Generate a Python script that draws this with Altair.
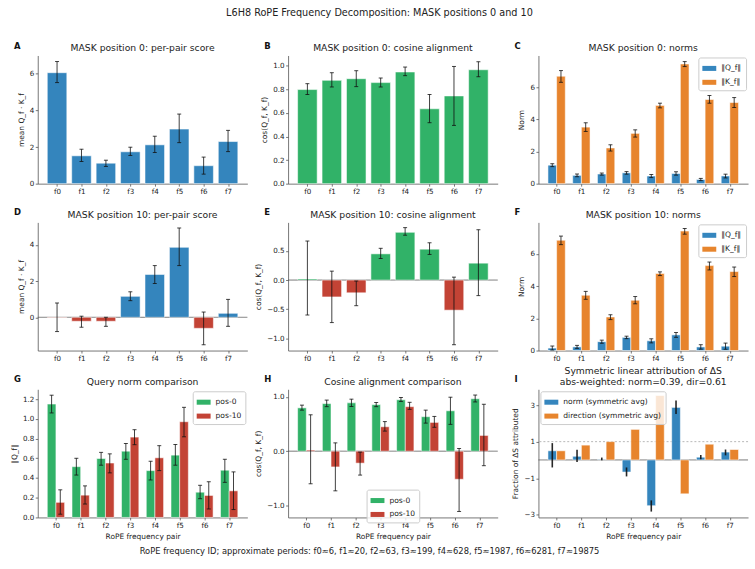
import altair as alt
import pandas as pd

# ---- data -------------------------------------------------------------
FREQS = ["f0", "f1", "f2", "f3", "f4", "f5", "f6", "f7"]

# MASK position 0
score_p0 = [6.06, 1.52, 1.12, 1.74, 2.12, 2.98, 0.98, 2.30]
score_p0_lo = [5.52, 1.21, 0.94, 1.54, 1.70, 2.24, 0.52, 1.75]
score_p0_hi = [6.67, 1.88, 1.28, 1.99, 2.59, 3.80, 1.45, 2.91]

cos_p0 = [0.798, 0.876, 0.890, 0.857, 0.947, 0.635, 0.744, 0.966]
cos_p0_lo = [0.756, 0.820, 0.823, 0.820, 0.916, 0.517, 0.494, 0.907]
cos_p0_hi = [0.848, 0.941, 0.958, 0.896, 0.989, 0.756, 0.994, 1.034]

qnorm_p0 = [1.15, 0.515, 0.598, 0.672, 0.475, 0.632, 0.256, 0.479]
qnorm_p0_lo = [1.06, 0.43, 0.53, 0.59, 0.38, 0.53, 0.19, 0.356]
qnorm_p0_hi = [1.24, 0.60, 0.66, 0.75, 0.57, 0.74, 0.326, 0.59]

knorm_p0 = [6.69, 3.52, 2.22, 3.13, 4.87, 7.45, 5.24, 5.05]
knorm_p0_lo = [6.31, 3.25, 2.03, 2.90, 4.72, 7.29, 5.01, 4.74]
knorm_p0_hi = [7.04, 3.79, 2.42, 3.35, 5.01, 7.60, 5.49, 5.36]

# MASK position 10
score_p10 = [-0.02, -0.22, -0.22, 1.16, 2.37, 3.87, -0.61, 0.22]
score_p10_lo = [-0.79, -0.55, -0.50, 0.92, 1.87, 2.86, -1.52, -0.50]
score_p10_hi = [0.79, 0.06, 0.00, 1.41, 2.86, 4.94, 0.29, 0.99]

cos_p10 = [0.02, -0.29, -0.22, 0.45, 0.82, 0.53, -0.517, 0.29]
cos_p10_lo = [-0.60, -0.73, -0.44, 0.37, 0.77, 0.44, -1.11, -0.267]
cos_p10_hi = [0.67, 0.153, -0.017, 0.545, 0.90, 0.64, 0.05, 0.864]

qnorm_p10 = [0.153, 0.226, 0.552, 0.815, 0.605, 0.971, 0.223, 0.27]
qnorm_p10_lo = [0.033, 0.136, 0.452, 0.738, 0.475, 0.818, 0.086, 0.08]
qnorm_p10_hi = [0.28, 0.32, 0.645, 0.89, 0.728, 1.117, 0.362, 0.462]

knorm_p10 = [6.84, 3.43, 2.08, 3.12, 4.78, 7.41, 5.27, 4.90]
knorm_p10_lo = [6.57, 3.18, 1.92, 2.90, 4.65, 7.22, 5.00, 4.59]
knorm_p10_hi = [7.10, 3.67, 2.22, 3.35, 4.88, 7.57, 5.49, 5.18]

# Symmetric linear attribution of the score change
attr_norm = [0.50, 0.20, 0.03, -0.66, -2.50, 2.87, 0.15, 0.43]
attr_norm_lo = [-0.41, -0.11, -0.02, -0.90, -2.82, 2.51, 0.04, 0.25]
attr_norm_hi = [0.92, 0.56, 0.13, -0.41, -2.21, 3.25, 0.27, 0.57]
attr_dir = [0.50, 0.81, 1.00, 1.67, 3.52, -1.85, 0.86, 0.57]

SUPTITLE = "L6H8 RoPE Frequency Decomposition: MASK positions 0 and 10"
CAPTION = ("RoPE frequency ID; approximate periods: f0\u22486, f1\u224820, f2\u224863, "
           "f3\u2248199, f4\u2248628, f5\u22481987, f6\u22486281, f7\u224819875")

# ---- style ------------------------------------------------------------
BLUE, ORANGE, GREEN, RED = "#2a7fba", "#e67e22", "#27ae60", "#c0392b"
FONT = "DejaVu Sans"
W, H = 211, 129
XTITLE = "RoPE frequency pair"
GROUP_W = 0.35          # width of one bar inside a pair of grouped bars
SINGLE_W = 0.8          # width of a lone bar


def make_df(series, single_colors=None):
    """Long table: one row per (frequency, series) with bar extent in
    category units (index +/- half width) and its error interval."""
    rows = []
    grouped = len(series) > 1
    for k, (name, vals, lo, hi) in enumerate(series):
        for i, (v, l, h) in enumerate(zip(vals, lo, hi)):
            if grouped:
                c = i + (k - 0.5) * GROUP_W
                half = GROUP_W / 2
                fill = None
            else:
                c = i
                half = SINGLE_W / 2
                fill = single_colors[0] if v >= 0 else single_colors[1]
            rows.append({"series": name, "value": v, "lo": l, "hi": h,
                         "xc": c, "x0": c - half, "x1": c + half,
                         "fill": fill})
    return pd.DataFrame(rows)


def x_scale(grouped):
    # matplotlib-style 5% margins around the outermost bar edges
    edge = GROUP_W if grouped else SINGLE_W / 2
    span = 7 + 2 * edge
    m = 0.05 * span
    return alt.Scale(domain=[-edge - m, 7 + edge + m], nice=False, zero=False)


def x_enc(field, grouped, xtitle):
    return alt.X(f"{field}:Q", title=xtitle, scale=x_scale(grouped),
                 axis=alt.Axis(values=list(range(8)),
                               labelExpr="'f' + datum.value"))


def y_enc(field, domain, ticks, fmt, ytitle):
    return alt.Y(f"{field}:Q", title=ytitle,
                 scale=alt.Scale(domain=domain, nice=False, zero=False),
                 axis=alt.Axis(values=ticks, format=fmt))


def letter(ch):
    return alt.Chart(pd.DataFrame({"t": [ch]})).mark_text(
        align="left", baseline="alphabetic", fontWeight="bold",
        fontSize=8.5, font=FONT, color="#111"
    ).encode(x=alt.value(-24), y=alt.value(-7), text="t:N")


def hline(yval, domain, dashed=False):
    return alt.Chart(pd.DataFrame({"y": [yval]})).mark_rule(
        color="#999" if dashed else "#555",
        strokeWidth=0.7 if dashed else 0.8,
        strokeDash=[2, 2] if dashed else [1, 0],
    ).encode(y=alt.Y("y:Q", scale=alt.Scale(domain=domain, nice=False, zero=False)))


def panel(df, ch, title, domain, ticks, fmt, ytitle, xtitle=None,
          series=None, colors=None, legend=None, caps=True, zero_line=False,
          ref_one=False, err_filter=None):
    grouped = series is not None
    base = alt.Chart(df)
    if grouped:
        color = alt.Color("series:N", sort=series,
                          scale=alt.Scale(domain=series, range=colors),
                          legend=legend)
    else:
        color = alt.Color("fill:N", scale=None)

    bars = base.mark_bar(opacity=0.95, stroke="white", strokeWidth=1,
                         strokeOpacity=0.55).encode(
        x=x_enc("x0", grouped, xtitle), x2="x1:Q",
        y=y_enc("value", domain, ticks, fmt, ytitle), y2=alt.datum(0),
        color=color)

    eb = base
    if err_filter is not None:
        eb = eb.transform_filter(err_filter)
    rule = eb.mark_rule(color="#111", opacity=0.8 if caps else 0.9,
                        strokeWidth=1 if caps else 1.6).encode(
        x=x_enc("xc", grouped, xtitle),
        y=y_enc("lo", domain, ticks, fmt, ytitle), y2="hi:Q")

    layers = []
    if ref_one:
        layers.append(hline(1, domain, dashed=True))
    if zero_line:
        layers.append(hline(0, domain))
    layers += [bars, rule]
    if caps:
        cap = eb.transform_fold(["lo", "hi"], as_=["end", "endval"]).mark_tick(
            orient="horizontal", color="#111", opacity=0.8, size=4,
            thickness=1).encode(
            x=x_enc("xc", grouped, xtitle),
            y=y_enc("endval", domain, ticks, fmt, ytitle))
        layers.append(cap)
    layers.append(letter(ch))

    return alt.layer(*layers).properties(
        width=W, height=H,
        title=alt.TitleParams(title, fontSize=9.3, fontWeight="normal",
                              font=FONT, color="#222", offset=-12,
                              lineHeight=11),
    )


def leg(orient="top-right", **kw):
    return alt.Legend(
        title=None, orient=orient, offset=2,
        symbolType="M-1,-0.36H1V0.36H-1Z", symbolSize=196,
        symbolStrokeWidth=0, symbolOpacity=0.95,
        labelFontSize=7.6, labelFont=FONT, labelColor="#222", labelOffset=5,
        rowPadding=3, padding=4, strokeColor="#cccccc",
        fillColor="rgba(255,255,255,0.8)", cornerRadius=2, **kw)


QK = ["\u2016Q_f\u2016", "\u2016K_f\u2016"]
POS = ["pos-0", "pos-10"]
ATT = ["norm (symmetric avg)", "direction (symmetric avg)"]

pA = panel(make_df([("score", score_p0, score_p0_lo, score_p0_hi)], (BLUE, RED)),
           "A", "MASK position 0: per-pair score", [0, 7.0], [0, 2, 4, 6], "d",
           "mean Q_f \u00b7 K_f")
pB = panel(make_df([("cos", cos_p0, cos_p0_lo, cos_p0_hi)], (GREEN, RED)),
           "B", "MASK position 0: cosine alignment", [0, 1.087],
           [0, 0.2, 0.4, 0.6, 0.8, 1.0], ".1f", "cos(Q_f, K_f)")
pC = panel(make_df([(QK[0], qnorm_p0, qnorm_p0_lo, qnorm_p0_hi),
                    (QK[1], knorm_p0, knorm_p0_lo, knorm_p0_hi)]), "C",
           "MASK position 0: norms", [0, 7.98], [0, 2, 4, 6], "d", "Norm",
           series=QK, colors=[BLUE, ORANGE], legend=leg())
pD = panel(make_df([("score", score_p10, score_p10_lo, score_p10_hi)], (BLUE, RED)),
           "D", "MASK position 10: per-pair score", [-1.84, 5.25], [0, 2, 4], "d",
           "mean Q_f \u00b7 K_f", zero_line=True)
pE = panel(make_df([("cos", cos_p10, cos_p10_lo, cos_p10_hi)], (GREEN, RED)),
           "E", "MASK position 10: cosine alignment", [-1.21, 0.99],
           [-1.0, -0.5, 0.0, 0.5], ".1f", "cos(Q_f, K_f)", zero_line=True)
pF = panel(make_df([(QK[0], qnorm_p10, qnorm_p10_lo, qnorm_p10_hi),
                    (QK[1], knorm_p10, knorm_p10_lo, knorm_p10_hi)]), "F",
           "MASK position 10: norms", [0, 7.95], [0, 2, 4, 6], "d", "Norm",
           series=QK, colors=[BLUE, ORANGE], legend=leg())
pG = panel(make_df([(POS[0], qnorm_p0, qnorm_p0_lo, qnorm_p0_hi),
                    (POS[1], qnorm_p10, qnorm_p10_lo, qnorm_p10_hi)]), "G",
           "Query norm comparison", [0, 1.30],
           [0, 0.2, 0.4, 0.6, 0.8, 1.0, 1.2], ".1f", "\u2016Q_f\u2016",
           xtitle=XTITLE, series=POS, colors=[GREEN, RED], legend=leg())
pH = panel(make_df([(POS[0], cos_p0, cos_p0_lo, cos_p0_hi),
                    (POS[1], cos_p10, cos_p10_lo, cos_p10_hi)]), "H",
           "Cosine alignment comparison", [-1.22, 1.14],
           [-1.0, -0.5, 0.0, 0.5, 1.0], ".1f", "cos(Q_f, K_f)",
           xtitle=XTITLE, series=POS, colors=[GREEN, RED],
           legend=leg("none", legendX=79, legendY=101), zero_line=True)
pI = panel(make_df([(ATT[0], attr_norm, attr_norm_lo, attr_norm_hi),
                    (ATT[1], attr_dir, attr_dir, attr_dir)]), "I",
           ["Symmetric linear attribution of \u0394S",
            "abs-weighted: norm=0.39, dir=0.61"], [-3.14, 3.86],
           [-3, -2, -1, 0, 1, 2, 3], "d", "Fraction of \u0394S attributed",
           xtitle=XTITLE, series=ATT, colors=[BLUE, ORANGE],
           legend=leg("top-left"), caps=False, zero_line=True, ref_one=True,
           err_filter=alt.datum.series == ATT[0])

grid = alt.concat(pA, pB, pC, pD, pE, pF, pG, pH, pI, columns=3,
                  spacing={"row": 39, "column": 41}, bounds="flush").resolve_scale(
    color="independent", x="independent", y="independent"
).resolve_legend(color="independent").properties(
    title=alt.TitleParams(CAPTION, orient="bottom", anchor="middle",
                          fontSize=8.4, fontWeight="normal", font=FONT,
                          color="#222", offset=7, dx=-10)
)

chart = alt.vconcat(grid).properties(
    title=alt.TitleParams(SUPTITLE, anchor="middle", fontSize=9.75,
                          fontWeight="normal", font=FONT, color="#222",
                          offset=24),
    padding={"left": 10, "top": 6, "right": 6, "bottom": 4},
).configure_view(stroke=None).configure_axis(
    labelFont=FONT, titleFont=FONT, labelFontSize=7.2, titleFontSize=7.5,
    titleFontWeight="normal", labelColor="#222", titleColor="#222",
    domainColor="#555", tickColor="#555", domainWidth=0.8, tickWidth=0.8,
    tickSize=2.5, labelPadding=1.5, titlePadding=4, grid=False,
).configure_axisX(labelAngle=0, titlePadding=4)

chart.save("out.html", embed_options={"renderer": "svg", "actions": False})
